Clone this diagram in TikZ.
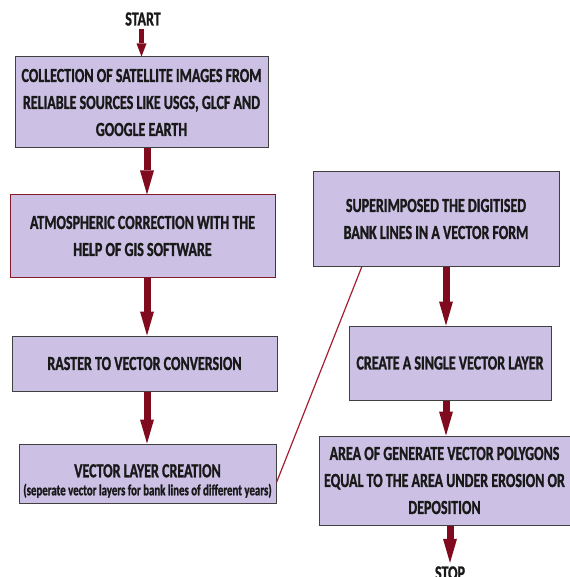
\documentclass[tikz,border=0pt]{standalone}
\usepackage{fontspec}
\setmainfont{Carlito}[FakeStretch=0.7, BoldFeatures={FakeBold=1.2}]
\usetikzlibrary{arrows.meta, calc}
\definecolor{boxfill}{RGB}{204,193,229}
\definecolor{boxline}{RGB}{64,64,64}
\definecolor{arrowred}{RGB}{128,10,30}
\definecolor{linered}{RGB}{165,30,50}

\begin{document}
\begin{tikzpicture}[x=1pt, y=-1pt]
    \tikzset{
      box/.style={
        draw=boxline,
        fill=boxfill,
        line width=1pt,
        align=center,
        inner sep=0pt,
        text=black!90,
        font=\fontsize{20}{27}\selectfont\bfseries,
      },
      flow/.style={
        color=arrowred,
        line width=7pt,
        -{Triangle[width=14pt,length=24pt,line width=0pt]},
      },
      lbl/.style={
        text=black!90,
        font=\fontsize{20}{22}\selectfont\bfseries,
      }
    }

    \pgfmathsetmacro{\XL}{147}
    \pgfmathsetmacro{\XR}{446}

    \useasboundingbox (0,0) rectangle (569,577);
    \coordinate (arrL) at (\XL,0);
    \coordinate (arrR) at (\XR,0);

    % left column
    \node[lbl] (start) at (143,19) {START};
    \node[box, minimum width=253pt, minimum height=91pt] (c1) at (141.5,102.5)
        {COLLECTION OF SATELLITE IMAGES FROM\\RELIABLE SOURCES LIKE USGS, GLCF AND\\GOOGLE EARTH};
    \node[box, draw=linered!80!black, minimum width=265pt, minimum height=82pt] (c2) at (142.5,236)
        {ATMOSPHERIC CORRECTION WITH THE\\HELP OF GIS SOFTWARE};
    \node[box, minimum width=265pt, minimum height=55pt] (c3) at (144.5,363.5)
        {RASTER TO VECTOR CONVERSION};
    \node[box, minimum width=257pt, minimum height=59pt] (c4) at (147.5,473.5)
        {\rule{0pt}{28pt}VECTOR LAYER CREATION\\[-9pt]
         {\fontsize{15.5}{17}\selectfont (seperate vector layers for bank lines of different years)}};

    % right column
    \node[box, minimum width=246pt, minimum height=94pt] (s5) at (436,219)
        {SUPERIMPOSED THE DIGITISED\\BANK LINES IN A VECTOR FORM};
    \node[box, minimum width=202pt, minimum height=74pt] (s6) at (450,363)
        {CREATE A SINGLE VECTOR LAYER};
    \node[box, minimum width=251pt, minimum height=89pt] (s7) at (444.5,480.5)
        {AREA OF GENERATE VECTOR POLYGONS\\EQUAL TO THE AREA UNDER EROSION OR\\DEPOSITION};
    \node[lbl] (stop) at (450,573) {STOP};

    \path[flow]
        (start.south -| c1.north) edge[line width=4.5pt, -{Triangle[width=10pt,length=13pt,line width=0pt]}] (c1.north)
        (c1.south -| arrL) edge (c2.north -| arrL)
        (c2.south -| arrL) edge (c3.north -| arrL)
        (c3.south -| arrL) edge (c4.north -| arrL)
        (s5.south -| arrR) edge (s6.north -| arrR)
        (s6.south -| arrR) edge (s7.north -| arrR)
        (s7.south -| stop.north) edge (stop.north);

    % link between the columns
    \draw[linered, line width=1.2pt]
        ([yshift=-9pt]c4.east) -- ($(s5.south west)!0.2!(s5.south east)$);
\end{tikzpicture}
\end{document}
